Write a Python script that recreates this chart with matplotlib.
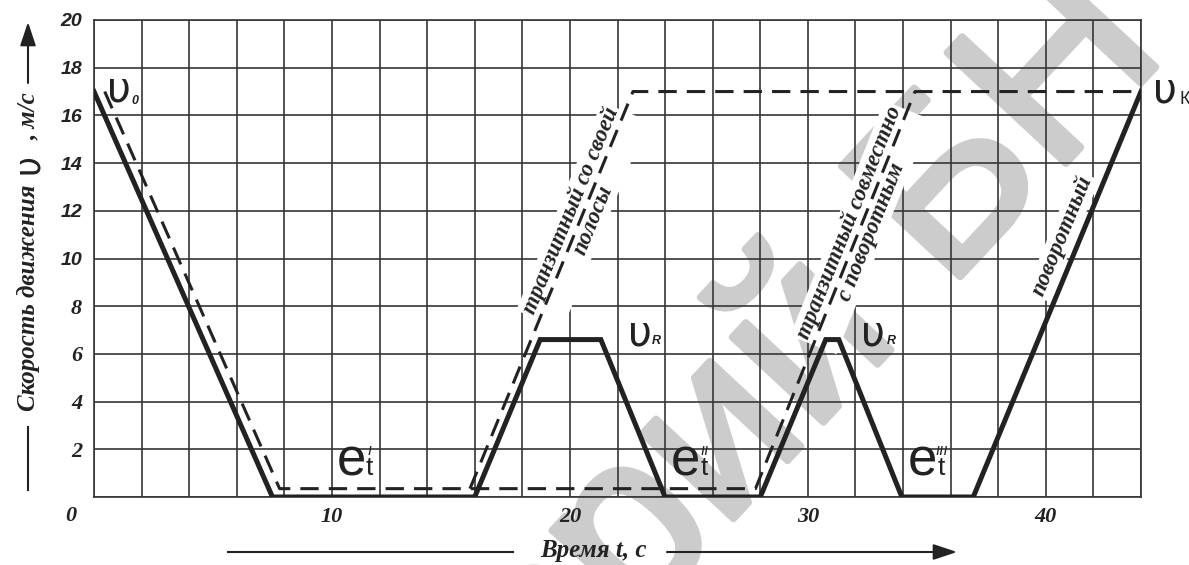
import numpy as np
import matplotlib.pyplot as plt
import matplotlib.patheffects as pe

# speed profile of the turning vehicle (solid)
t_turn = [0, 7.5, 16.0, 18.75, 21.3, 24.0, 28.0, 30.75, 31.3, 33.95, 36.95, 44.0]
v_turn = [17, 0, 0, 6.6, 6.6, 0, 0, 6.6, 6.6, 0, 0, 17]

# through vehicles (dashed): shared-lane branch and own-lane branch
t_shared = [0.45, 7.8, 27.8, 34.5]
v_shared = [17, 0.35, 0.35, 17]
t_own = [15.8, 22.65, 44.0]
v_own = [0.35, 17, 17]

x_ticks = list(range(0, 45, 2))
x_labeled = [10, 20, 30, 40]
y_ticks = list(range(0, 21, 2))

W, H = 1189, 565
INK = '#222222'
GRID = '#363636'
SERIF_BI = dict(family=['Liberation Serif', 'DejaVu Serif'], weight='bold', style='italic')
SANS_BI = dict(family=['Liberation Sans', 'DejaVu Sans'], weight='bold', style='italic')
V_FONT = dict(family=['DejaVu Sans'])

fig = plt.figure(figsize=(W / 100, H / 100), dpi=100, facecolor='white')

# background layer for the repository stamp
bg = fig.add_axes([0, 0, 1, 1], zorder=-2)
bg.set_xlim(0, W)
bg.set_ylim(H, 0)
bg.axis('off')
stamp_grey = '#cccccc'
stamp = dict(rotation=47, rotation_mode='anchor', va='baseline', fontsize=170,
             color=stamp_grey, family='Liberation Sans', clip_on=True,
             path_effects=[pe.withStroke(linewidth=5, foreground=stamp_grey)])
bg.text(902, 338, 'Репозиторий', ha='right', **stamp)
bg.text(947, 291, 'БНТУ', ha='left', **stamp)

ax = fig.add_axes([94 / W, 68 / H, 1047 / W, 477 / H], zorder=0)
ax.patch.set_alpha(0)
ax.set_xlim(0, 44)
ax.set_ylim(0, 20)
ax.set_axisbelow(True)
ax.grid(True, color=GRID, lw=1.2)
for sp in ax.spines.values():
    sp.set_color(GRID)
    sp.set_linewidth(1.2)

ax.set_xticks(x_ticks)
ax.set_xticklabels([str(t) if t in x_labeled else '' for t in x_ticks])
ax.set_yticks(y_ticks)
ax.set_yticklabels([str(v) if v else '' for v in y_ticks])
ax.tick_params(length=0)
ax.tick_params(axis='x', pad=7)
ax.tick_params(axis='y', pad=8.5)
for lab in ax.get_xticklabels():
    lab.set(fontsize=16, color=INK, **SERIF_BI)
for lab, v in zip(ax.get_yticklabels(), y_ticks):
    if v >= 10:
        lab.set(fontsize=14, color=INK, **SANS_BI)
    else:
        lab.set(fontsize=16, color=INK, **SERIF_BI)
ax.text(-0.97, -0.8, '0', ha='center', va='center', fontsize=16, color=INK,
        clip_on=False, **SERIF_BI)

ax.plot(t_turn, v_turn, color=INK, lw=3.6, solid_joinstyle='miter', zorder=4)
for tt, vv in [(t_shared, v_shared), (t_own, v_own)]:
    ax.plot(tt, vv, color=INK, lw=2.2, dashes=(6, 3.3), zorder=4)


def slope_angle(t, v):
    return np.degrees(np.arctan2(v[1] - v[0], t[1] - t[0]))


lab_kw = dict(ha='center', va='center', multialignment='center', rotation_mode='anchor',
              transform_rotates_text=True, fontsize=16.5, color=INK, linespacing=1.2,
              bbox=dict(fc='white', ec='none', pad=1.5), zorder=3, **SERIF_BI)

y1 = 11.8
ax.text(np.interp(y1, v_own[:2], t_own[:2]), y1, 'транзитный со своей\nполосы',
        rotation=slope_angle(t_own[:2], v_own[:2]), **lab_kw)
y2 = 11.3
ax.text(np.interp(y2, v_shared[2:], t_shared[2:]), y2, 'транзитный совместно\nс поворотным',
        rotation=slope_angle(t_shared[2:], v_shared[2:]), **lab_kw)
ax.text(40.7, 10.94, 'поворотный', rotation=slope_angle(t_turn[-2:], v_turn[-2:]), **lab_kw)

# speed symbols
ax.text(1.05, 17.1, 'υ', ha='center', va='center', fontsize=30, color=INK, zorder=5, **V_FONT)
ax.text(1.72, 16.62, '0', ha='center', va='center', fontsize=9, color=INK, zorder=5, **SANS_BI)
for xv, xr in [(22.94, 23.62), (32.73, 33.52)]:
    ax.text(xv, 6.85, 'υ', ha='center', va='center', fontsize=30, color=INK, zorder=5, **V_FONT)
    ax.text(xr, 6.55, 'R', ha='center', va='center', fontsize=9, color=INK, zorder=5, **SANS_BI)
ax.text(45.0, 17.05, 'υ', ha='center', va='center', fontsize=30, color=INK,
        clip_on=False, **V_FONT)
ax.text(45.6, 16.65, 'К', ha='left', va='center', fontsize=13, color=INK,
        clip_on=False, family='Liberation Sans')

# gap markers e_t', e_t'', e_t'''
for xe, primes in [(10.8, 'ı'), (24.87, 'ıı'), (34.83, 'ııı')]:
    ax.text(xe, 1.47, 'e', ha='center', va='center', fontsize=38, color=INK,
            zorder=5, family='Liberation Sans')
    ax.text(xe + 0.78, 1.2, 't', ha='center', va='center', fontsize=19, color=INK,
            zorder=5, family='Liberation Sans')
    ax.text(xe + 0.8, 1.95, primes, ha='center', va='center', fontsize=11, color=INK,
            zorder=5, family='DejaVu Sans', style='italic')

# overlay in pixel coordinates for the axis captions with arrows
ov = fig.add_axes([0, 0, 1, 1], zorder=1)
ov.set_xlim(0, W)
ov.set_ylim(H, 0)
ov.axis('off')
arrow = dict(arrowstyle='-|>,head_length=0.9,head_width=0.3', lw=1.5, color=INK,
             shrinkA=0, shrinkB=0, mutation_scale=16)

ov.plot([28, 28], [490, 427], color=INK, lw=1.5)
ov.annotate('', xy=(28, 22), xytext=(28, 83), arrowprops=arrow)
ov.text(28, 298, 'Скорость движения', rotation=90, ha='center', va='center',
        fontsize=18, color=INK, **SERIF_BI)
ov.text(28, 164, 'υ', rotation=90, ha='center', va='center', fontsize=25, color=INK, **V_FONT)
ov.text(28, 116, ', м/с', rotation=90, ha='center', va='center',
        fontsize=18, color=INK, **SERIF_BI)

ov.plot([228, 513], [552, 552], color=INK, lw=1.5)
ov.annotate('', xy=(957, 552), xytext=(667, 552), arrowprops=arrow)
ov.text(593, 550, 'Время t, с', ha='center', va='center', fontsize=18, color=INK, **SERIF_BI)

fig.savefig('out.png', dpi=100, facecolor='white')
